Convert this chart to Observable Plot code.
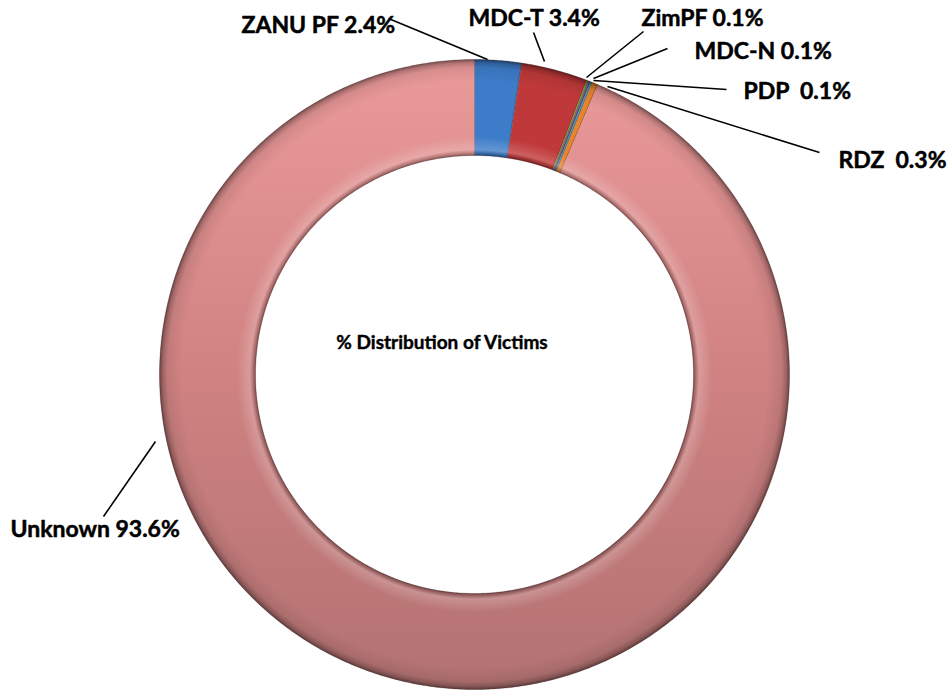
<!DOCTYPE html>
<html><head><meta charset="utf-8">
<script src="https://cdn.jsdelivr.net/npm/d3@7"></script>
<script src="https://cdn.jsdelivr.net/npm/@observablehq/plot@0.6"></script>
<style>
html,body{margin:0;padding:0;background:#fff;}
svg text{white-space:pre;}
</style></head><body><div id="chart"></div>
<script>
// ---- data ----
const categories = ["ZANU PF","MDC-T","ZimPF","MDC-N","PDP","RDZ","Unknown"];
const shares = [2.4, 3.4, 0.1, 0.1, 0.1, 0.3, 93.6];
const labels = ["ZANU PF 2.4%","MDC-T 3.4%","ZimPF 0.1%","MDC-N 0.1%","PDP  0.1%","RDZ  0.3%","Unknown 93.6%"];
const centerTitle = "% Distribution of Victims";

// ---- layout / style ----
const W = 951, H = 696, CX = 474, CY = 374, R = 315, K = 219 / 315;
const colors = ["#3d7cc9","#c0393a","#7ba23c","#6b4f96","#3da2c2","#e8842c","url(#gUnknown)"];
const labelPx = [[241,25],[468,18.5],[641,18],[694,51.5],[743,91.5],[838,160],[10,529]];
const leaderPx = [
  [[388,18],[487,59]],
  [[533,32],[544,61]],
  [[643,31],[586,77]],
  [[667,48],[593,78]],
  [[726,89],[593,80]],
  [[819,152],[607,86]],
  [[103,516],[155,441]]
];
const toU = px => (px - CX) / R;
const toV = py => (CY - py) / R;

// slice outlines in unit-circle space (angle clockwise from 12 o'clock)
const slices = [];
let cum = 0;
shares.forEach((v, i) => {
  const a0 = cum / 100 * 2 * Math.PI; cum += v;
  const a1 = cum / 100 * 2 * Math.PI;
  const n = Math.max(2, Math.ceil((a1 - a0) / (Math.PI / 360)));
  const pts = [];
  for (let j = 0; j <= n; j++) { const a = a0 + (a1 - a0) * j / n; pts.push({cat: categories[i], x: Math.sin(a), y: Math.cos(a)}); }
  for (let j = n; j >= 0; j--) { const a = a0 + (a1 - a0) * j / n; pts.push({cat: categories[i], x: K * Math.sin(a), y: K * Math.cos(a)}); }
  slices.push(pts);
});
// full ring for bevel overlay
const ring = [];
for (let j = 0; j <= 720; j++) { const a = j / 720 * 2 * Math.PI; ring.push({x: Math.sin(a), y: Math.cos(a)}); }
for (let j = 720; j >= 0; j--) { const a = j / 720 * 2 * Math.PI; ring.push({x: K * Math.sin(a), y: K * Math.cos(a)}); }

const labelData = labels.map((t, i) => ({text: t, x: toU(labelPx[i][0]), y: toV(labelPx[i][1])}));
const leaderData = leaderPx.map(([a, b]) => ({x1: toU(a[0]), y1: toV(a[1]), x2: toU(b[0]), y2: toV(b[1])}));

const chart = Plot.plot({
  width: W, height: H, margin: 0,
  x: {domain: [-1, 1], range: [CX - R, CX + R], axis: null},
  y: {domain: [-1, 1], range: [CY + R, CY - R], axis: null},
  style: {background: "white", fontFamily: "Lato"},
  marks: [
    ...slices.map((pts, i) => Plot.line(pts, {x: "x", y: "y", curve: "linear-closed",
      fill: colors[i], stroke: "#4a2525", strokeOpacity: 0.35, strokeWidth: 0.8})),
    Plot.line(ring, {x: "x", y: "y", curve: "linear-closed", fill: "url(#gBevel)", stroke: "none"}),
    Plot.link(leaderData, {x1: "x1", y1: "y1", x2: "x2", y2: "y2", stroke: "black", strokeWidth: 1.6}),
    Plot.text(labelData, {x: "x", y: "y", text: "text", textAnchor: "start", fontSize: 23,
      fontWeight: 700, fontFamily: "Lato", fill: "black", stroke: "black", strokeWidth: 0.5}),
    Plot.text([centerTitle], {x: toU(441.5), y: toV(342), text: d => d, fontSize: 19,
      fontWeight: 700, fontFamily: "Lato", fill: "black", stroke: "black", strokeWidth: 0.4})
  ]
});

const cxp = chart.scale("x").apply(0), cyp = chart.scale("y").apply(0);
const rp = chart.scale("x").apply(1) - cxp;
const defs = d3.select(chart).insert("defs", ":first-child");
const lg = defs.append("linearGradient").attr("id", "gUnknown").attr("gradientUnits", "userSpaceOnUse")
  .attr("x1", 0).attr("x2", 0).attr("y1", cyp - rp).attr("y2", cyp + rp);
[[0, "#ea9a99"], [0.5, "#d08282"], [1, "#b37272"]].forEach(([o, c]) => lg.append("stop").attr("offset", o).attr("stop-color", c));
const rg = defs.append("radialGradient").attr("id", "gBevel").attr("gradientUnits", "userSpaceOnUse")
  .attr("cx", cxp).attr("cy", cyp).attr("r", rp);
[[0, "#000", 0], [K - 0.002, "#000", 0.5], [K + 0.006, "#000", 0.2], [K + 0.018, "#fff", 0.2], [K + 0.06, "#fff", 0],
 [0.93, "#000", 0], [0.975, "#000", 0.08], [0.99, "#000", 0.25], [1, "#000", 0.5]]
  .forEach(([o, c, a]) => rg.append("stop").attr("offset", o).attr("stop-color", c).attr("stop-opacity", a));

document.getElementById("chart").appendChild(chart);
</script></body></html>
